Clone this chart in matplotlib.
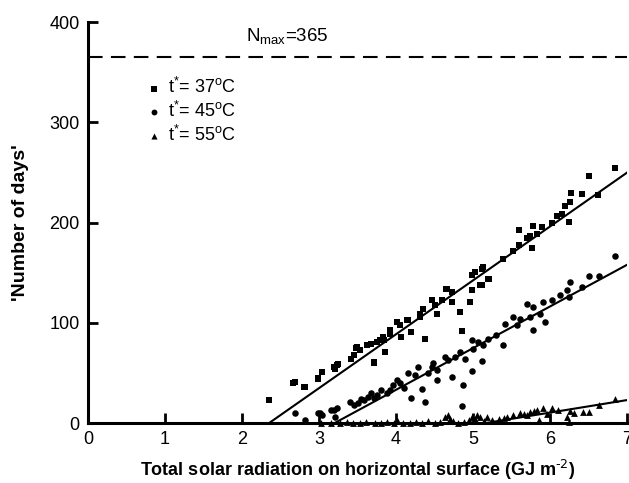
import matplotlib
matplotlib.use("Agg")
import matplotlib.pyplot as plt

plt.rcParams['font.family'] = ['Liberation Sans', 'DejaVu Sans']
plt.rcParams['mathtext.default'] = 'regular'

# t* = 37 C (squares)
x37 = [2.35, 2.66, 2.69, 2.81, 2.82, 2.99, 2.99, 3.04, 3.04, 3.19, 3.21, 3.23, 3.24,
       3.42, 3.45, 3.48, 3.49, 3.53, 3.62, 3.68, 3.71, 3.71, 3.75, 3.79, 3.83, 3.84,
       3.86, 3.92, 3.92, 4.01, 4.01, 4.05, 4.07, 4.14, 4.16, 4.20, 4.31, 4.31, 4.35,
       4.38, 4.46, 4.51, 4.53, 4.59, 4.65, 4.66, 4.72, 4.72, 4.83, 4.85, 4.96, 4.98,
       4.98, 5.03, 5.09, 5.11, 5.11, 5.13, 5.20, 5.21, 5.39, 5.52, 5.59, 5.59, 5.70,
       5.74, 5.77, 5.78, 5.83, 5.89, 6.02, 6.09, 6.15, 6.19, 6.24, 6.26, 6.27, 6.42,
       6.50, 6.62, 6.84]
y37 = [23, 40, 41, 36, 36, 44, 45, 51, 51, 56, 54, 58, 59,
       64, 68, 75, 76, 73, 78, 79, 61, 60, 81, 83, 86, 83,
       71, 93, 89, 101, 101, 98, 86, 103, 103, 91, 109, 106, 114,
       84, 123, 118, 109, 123, 134, 134, 131, 121, 111, 92, 121, 148,
       133, 151, 138, 154, 138, 156, 144, 144, 164, 172, 178, 193, 185,
       187, 175, 197, 189, 196, 200, 207, 209, 217, 201, 221, 230, 229,
       247, 228, 255]

# t* = 45 C (circles)
x45 = [2.69, 2.82, 2.99, 3.01, 3.04, 3.16, 3.19, 3.21, 3.23, 3.40, 3.45, 3.51, 3.58,
       3.64, 3.71, 3.75, 3.81, 3.88, 3.92, 3.96, 4.01, 4.10, 4.16, 4.20, 4.29, 4.33,
       4.38, 4.42, 4.46, 4.53, 4.53, 4.64, 4.68, 4.72, 4.77, 4.83, 4.86, 4.87, 4.98,
       4.98, 5.00, 5.07, 5.11, 5.13, 5.20, 5.39, 5.42, 5.52, 5.57, 5.61, 5.70, 5.74,
       5.78, 5.78, 5.87, 5.91, 5.94, 6.02, 6.13, 6.22, 6.24, 6.26, 6.42, 6.51, 6.63,
       6.84, 3.55, 3.68, 4.05, 4.25, 4.48, 4.90, 5.30]
y45 = [10, 3, 10, 10, 8, 13, 13, 6, 15, 21, 18, 20, 23,
       26, 25, 28, 33, 30, 33, 38, 43, 35, 50, 25, 56, 34,
       21, 50, 56, 53, 43, 66, 63, 46, 66, 71, 17, 38, 83,
       52, 74, 81, 62, 78, 84, 78, 99, 106, 98, 104, 119, 106,
       116, 93, 109, 121, 101, 123, 128, 133, 126, 141, 136, 147, 147,
       167, 24, 30, 40, 48, 60, 64, 88]

# t* = 55 C (triangles)
x55 = [3.02, 3.15, 3.27, 3.36, 3.44, 3.53, 3.61, 3.72, 3.80, 3.88, 3.97, 4.01, 4.09,
       4.18, 4.26, 4.33, 4.41, 4.50, 4.57, 4.64, 4.68, 4.74, 4.80, 4.88, 4.95, 4.98,
       5.02, 5.09, 5.14, 5.18, 5.25, 5.33, 5.40, 5.44, 5.52, 5.61, 5.66, 5.70, 5.74,
       5.79, 5.83, 5.85, 5.91, 5.96, 6.02, 6.10, 6.22, 6.24, 6.26, 6.31, 6.43, 6.50,
       6.63, 6.84, 5.05, 4.70]
y55 = [0, 0, 0, 1, 0, 0, 1, 0, 0, 1, 0, 3, 0,
       0, 1, 0, 2, 0, 1, 6, 8, 2, 0, 1, 3, 6,
       4, 6, 2, 6, 3, 4, 5, 6, 8, 10, 9, 8, 11,
       12, 13, 3, 15, 9, 15, 13, 6, 1, 12, 10, 11, 11,
       18, 24, 8, 4]

# fitted lines (end points)
fit37_x = [2.35, 7.0]
fit37_y = [0, 250]
fit45_x = [3.2, 7.0]
fit45_y = [0, 158]
fit55_x = [5.16, 7.0]
fit55_y = [0, 23]

n_max = 365

fig = plt.figure(figsize=(6.29, 4.83), dpi=100)
ax = fig.add_axes([0.140, 0.124, 0.857, 0.830])

ax.scatter(x37, y37, marker='s', s=20, color='black', linewidths=0,
           label=r't$^{*}$= 37$^{o}$C', clip_on=False, zorder=3)
ax.scatter(x45, y45, marker='o', s=22, color='black', linewidths=0,
           label=r't$^{*}$= 45$^{o}$C', clip_on=False, zorder=3)
ax.scatter(x55, y55, marker='^', s=24, color='black', linewidths=0,
           label=r't$^{*}$= 55$^{o}$C', clip_on=False, zorder=3)

ax.plot(fit37_x, fit37_y, color='black', lw=1.5)
ax.plot(fit45_x, fit45_y, color='black', lw=1.5)
ax.plot(fit55_x, fit55_y, color='black', lw=1.5)

ax.axhline(n_max, color='black', lw=1.5, dashes=(7, 4))
ax.text(2.05, 376, r'N$_{max}$=365', fontsize=13.5, va='bottom', ha='left')

ax.set_xlim(0, 7)
ax.set_ylim(0, 400)
ax.set_xticks(range(0, 8))
ax.set_yticks([0, 100, 200, 300, 400])

for side in ['top', 'right']:
    ax.spines[side].set_visible(False)
for side in ['left', 'bottom']:
    ax.spines[side].set_linewidth(2.2)
ax.tick_params(direction='in', length=7, width=2, labelsize=13, pad=6)

ax.set_xlabel(r'Total solar radiation on horizontal surface (GJ m$^{\text{-2}}$)',
              fontsize=13, fontweight='bold', labelpad=7)
ax.set_ylabel("'Number of days'", fontsize=14, fontweight='bold', labelpad=15)

ax.legend(loc='upper left', bbox_to_anchor=(0.085, 0.885), frameon=False,
          fontsize=13, handletextpad=0.2, handlelength=1.2, labelspacing=0.2,
          borderpad=0, scatterpoints=1, markerscale=0.9)

fig.savefig('out.png', dpi=100)
